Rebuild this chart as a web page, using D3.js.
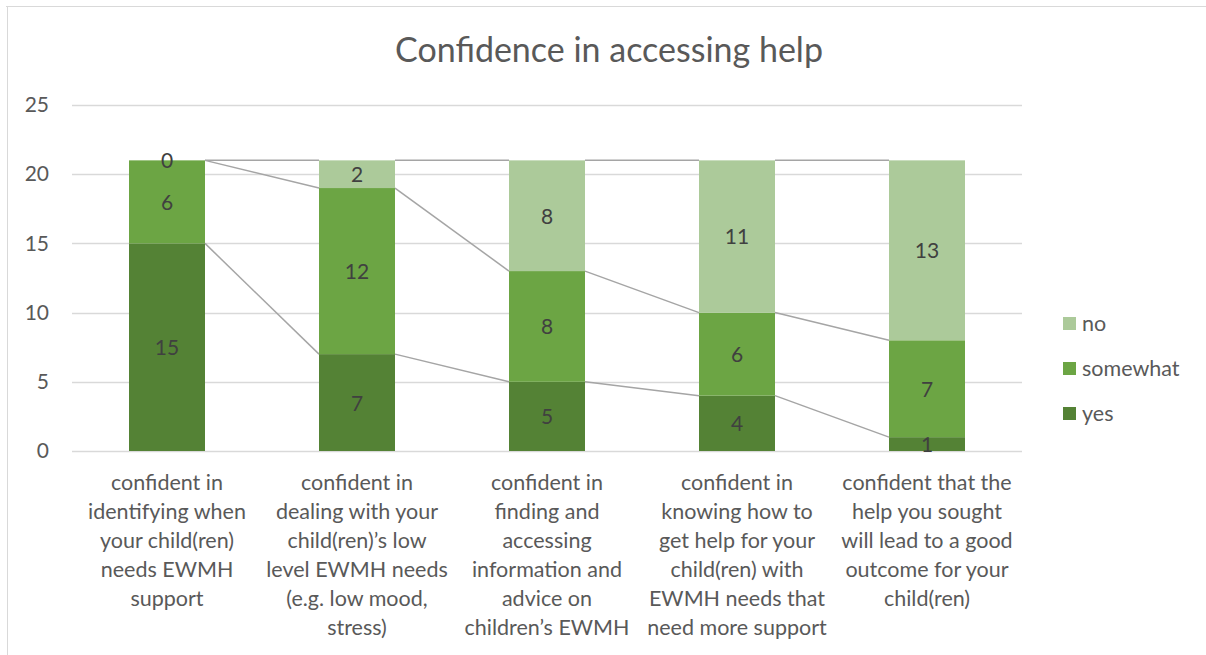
<!DOCTYPE html>
<html><head><meta charset="utf-8">
<script src="https://cdn.jsdelivr.net/npm/d3@7"></script>
<style>body{margin:0;background:#fff}svg{display:block}text{font-family:Lato,"Open Sans",sans-serif}</style>
</head><body><svg id="c" width="1206" height="655"></svg>
<script>
const categories = [
  ["confident in","identifying when","your child(ren)","needs EWMH","support"],
  ["confident in","dealing with your","child(ren)\u2019s low","level EWMH needs","(e.g. low mood,","stress)"],
  ["confident in","finding and","accessing","information and","advice on","children\u2019s EWMH"],
  ["confident in","knowing how to","get help for your","child(ren) with","EWMH needs that","need more support"],
  ["confident that the","help you sought","will lead to a good","outcome for your","child(ren)"]
];
const seriesNames = ["yes","somewhat","no"];
const yes = [15,7,5,4,1];
const somewhat = [6,12,8,6,7];
const no = [0,2,8,11,13];
const yTicks = [0,5,10,15,20,25];
const colors = {yes:"#548235", somewhat:"#6ca544", no:"#acca9a"};

const svg = d3.select("#c");
svg.append("line").attr("x1",6).attr("x2",1206).attr("y1",6.5).attr("y2",6.5).attr("stroke","#d9d9d9");
svg.append("line").attr("x1",7.5).attr("x2",7.5).attr("y1",6).attr("y2",655).attr("stroke","#d9d9d9");

const x = d3.scaleBand().domain(d3.range(categories.length)).range([72,1022]).paddingInner(0.6).paddingOuter(0.3);
const y = d3.scaleLinear().domain([0,25]).range([451,105]);

svg.append("text").attr("x",609).attr("y",62).attr("text-anchor","middle")
  .attr("font-size",34).attr("fill","#595959").text("Confidence in accessing help");

svg.append("g").selectAll("line").data(yTicks).join("line")
  .attr("x1",72).attr("x2",1022).attr("y1",d=>Math.round(y(d))+0.5).attr("y2",d=>Math.round(y(d))+0.5)
  .attr("stroke","#d9d9d9").attr("stroke-width",1.5);
const ax = svg.append("g").attr("transform","translate(59,0)").call(d3.axisLeft(y).tickValues(yTicks).tickSize(0).tickPadding(10));
ax.select(".domain").remove();
ax.selectAll("text").attr("font-size",21).attr("fill","#595959").attr("font-family","Lato");

const data = categories.map((c,i)=>({i, yes:yes[i], somewhat:somewhat[i], no:no[i]}));
const stack = d3.stack().keys(seriesNames)(data);

stack.forEach(s=>{
  for(let i=0;i<s.length-1;i++){
    svg.append("line").attr("x1",x(i)+x.bandwidth()).attr("y1",y(s[i][1]))
      .attr("x2",x(i+1)).attr("y2",y(s[i+1][1])).attr("stroke","#a5a5a5").attr("stroke-width",1.5);
  }
});

stack.forEach(s=>{
  const g = svg.append("g");
  g.selectAll("rect").data(s).join("rect")
    .attr("x",(d,i)=>x(i)).attr("width",x.bandwidth())
    .attr("y",d=>y(d[1])).attr("height",d=>y(d[0])-y(d[1]))
    .attr("fill",colors[s.key]);
  g.selectAll("text").data(s).join("text")
    .attr("x",(d,i)=>x(i)+x.bandwidth()/2).attr("y",d=>y((d[0]+d[1])/2)+8)
    .attr("text-anchor","middle").attr("font-size",21).attr("fill","#404040")
    .text(d=>d[1]-d[0]);
});

categories.forEach((lines,i)=>{
  const t = svg.append("text").attr("text-anchor","middle").attr("font-size",21.5).attr("fill","#595959");
  lines.forEach((l,k)=>t.append("tspan").attr("x",x(i)+x.bandwidth()/2).attr("y",490+k*29).text(l));
});

const leg = svg.append("g");
["no","somewhat","yes"].forEach((k,j)=>{
  const yy = 323 + j*45;
  leg.append("rect").attr("x",1063).attr("y",yy-6).attr("width",13).attr("height",13).attr("fill",colors[k]);
  leg.append("text").attr("x",1082).attr("y",yy+8).attr("font-size",21.5).attr("fill","#595959").text(k);
});
</script></body></html>
